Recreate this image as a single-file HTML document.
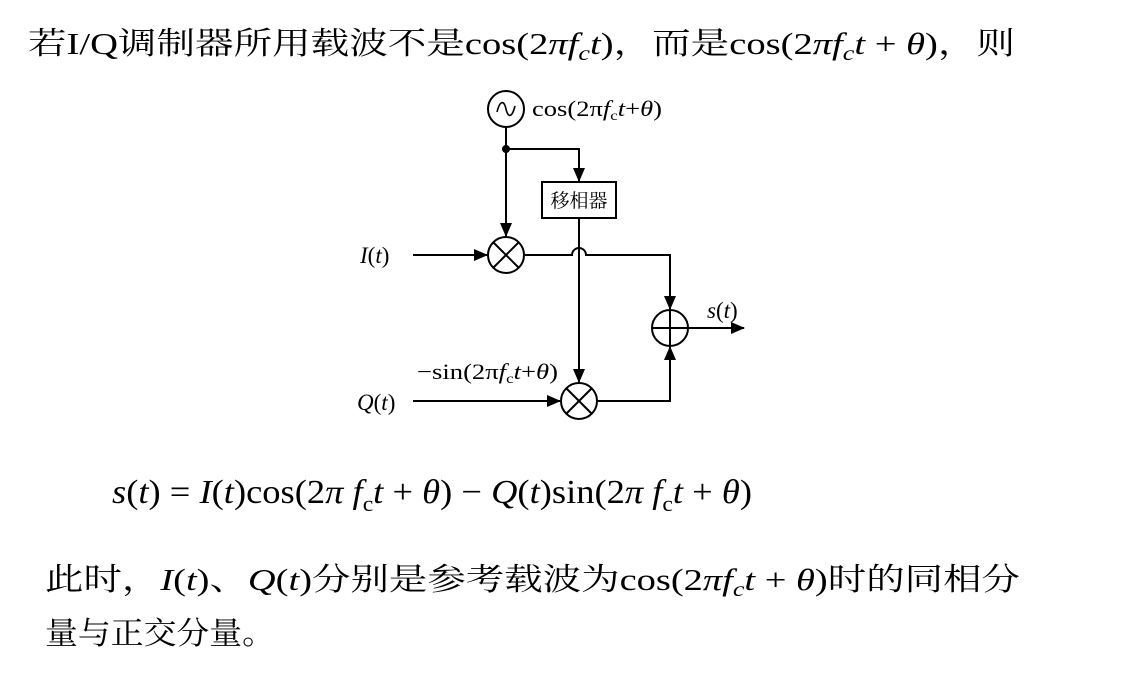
<!DOCTYPE html>
<html><head><meta charset="utf-8"><style>
html,body{margin:0;padding:0;background:#fff;}
svg{display:block;}
.cj{font-family:"Liberation Serif","Noto Serif CJK SC",serif;}
.sf{font-family:"Liberation Serif","Noto Serif CJK SC",serif;}
</style></head><body>
<svg width="1138" height="677" viewBox="0 0 1138 677" xmlns="http://www.w3.org/2000/svg">
<defs><marker id="a" markerWidth="14" markerHeight="12" refX="13" refY="6" orient="auto" markerUnits="userSpaceOnUse"><path d="M0,0 L14,6 L0,12 Z" fill="#000"/></marker></defs>
<text class="cj" x="28" y="54" font-size="31" textLength="987" lengthAdjust="spacingAndGlyphs">若I/Q调制器所用载波不是cos(2<tspan font-style="italic">π</tspan><tspan font-style="italic">f</tspan><tspan font-size="21" dy="6" font-style="italic">c</tspan><tspan dy="-6" font-style="italic">t</tspan>)，而是cos(2<tspan font-style="italic">π</tspan><tspan font-style="italic">f</tspan><tspan font-size="21" dy="6" font-style="italic">c</tspan><tspan dy="-6" font-style="italic">t</tspan> + <tspan font-style="italic">θ</tspan>)，则</text>

<g stroke="#000" stroke-width="2" fill="none">
<circle cx="506" cy="109" r="18"/>
<path d="M497,112 C500,100 504,100 506,109 C508,118 512,118 515,106" stroke-width="1.6"/>
<line x1="506" y1="127" x2="506" y2="236" marker-end="url(#a)"/>
<polyline points="506,149 579,149 579,181" marker-end="url(#a)"/>
<rect x="542" y="182" width="74" height="36"/>
<circle cx="506" cy="255" r="18"/>
<line x1="493" y1="242" x2="519" y2="268"/><line x1="519" y1="242" x2="493" y2="268"/>
<line x1="413" y1="255" x2="487" y2="255" marker-end="url(#a)"/>
<path d="M524,255 L572,255 A7,7 0 0 1 586,255 L670,255 L670,309" marker-end="url(#a)"/>
<line x1="579" y1="218" x2="579" y2="382" marker-end="url(#a)"/>
<circle cx="670" cy="328" r="18"/>
<line x1="652" y1="328" x2="688" y2="328"/><line x1="670" y1="310" x2="670" y2="346"/>
<line x1="688" y1="328" x2="744" y2="328" marker-end="url(#a)"/>
<circle cx="579" cy="401" r="18"/>
<line x1="566" y1="388" x2="592" y2="414"/><line x1="592" y1="388" x2="566" y2="414"/>
<line x1="413" y1="401" x2="560" y2="401" marker-end="url(#a)"/>
<polyline points="597,401 670,401 670,347" marker-end="url(#a)"/>
</g>
<circle cx="506" cy="149" r="4" fill="#000"/>
<text class="sf" x="532" y="116" font-size="22" textLength="130" lengthAdjust="spacingAndGlyphs">cos(2π<tspan font-style="italic">f</tspan><tspan font-size="14" dy="4">c</tspan><tspan dy="-4" font-style="italic">t</tspan>+<tspan font-style="italic">θ</tspan>)</text>
<text class="cj" x="579" y="207" font-size="19" text-anchor="middle">移相器</text>
<text class="sf" x="360" y="263" font-size="23" font-style="italic">I<tspan font-style="normal">(</tspan>t<tspan font-style="normal">)</tspan></text>
<text class="sf" x="707" y="318" font-size="23" font-style="italic">s<tspan font-style="normal">(</tspan>t<tspan font-style="normal">)</tspan></text>
<text class="sf" x="417" y="379" font-size="22" textLength="141" lengthAdjust="spacingAndGlyphs">−sin(2π<tspan font-style="italic">f</tspan><tspan font-size="14" dy="4">c</tspan><tspan dy="-4" font-style="italic">t</tspan>+<tspan font-style="italic">θ</tspan>)</text>
<text class="sf" x="357" y="410" font-size="23" font-style="italic">Q<tspan font-style="normal">(</tspan>t<tspan font-style="normal">)</tspan></text>

<text class="sf" x="112" y="503" font-size="34" textLength="640" lengthAdjust="spacingAndGlyphs"><tspan font-style="italic">s</tspan>(<tspan font-style="italic">t</tspan>) = <tspan font-style="italic">I</tspan>(<tspan font-style="italic">t</tspan>)cos(2<tspan font-style="italic">π f</tspan><tspan font-size="22" dy="8">c</tspan><tspan dy="-8" font-style="italic">t</tspan> + <tspan font-style="italic">θ</tspan>) − <tspan font-style="italic">Q</tspan>(<tspan font-style="italic">t</tspan>)sin(2<tspan font-style="italic">π f</tspan><tspan font-size="22" dy="8">c</tspan><tspan dy="-8" font-style="italic">t</tspan> + <tspan font-style="italic">θ</tspan>)</text>

<text class="cj" x="45" y="590" font-size="31" textLength="975" lengthAdjust="spacingAndGlyphs">此时，<tspan font-style="italic">I</tspan>(<tspan font-style="italic">t</tspan>)、<tspan font-style="italic">Q</tspan>(<tspan font-style="italic">t</tspan>)分别是参考载波为cos(2<tspan font-style="italic">π</tspan><tspan font-style="italic">f</tspan><tspan font-size="21" dy="6" font-style="italic">c</tspan><tspan dy="-6" font-style="italic">t</tspan> + <tspan font-style="italic">θ</tspan>)时的同相分</text>
<text class="cj" x="45" y="644" font-size="31" textLength="230" lengthAdjust="spacingAndGlyphs">量与正交分量。</text>
</svg>
</body></html>
